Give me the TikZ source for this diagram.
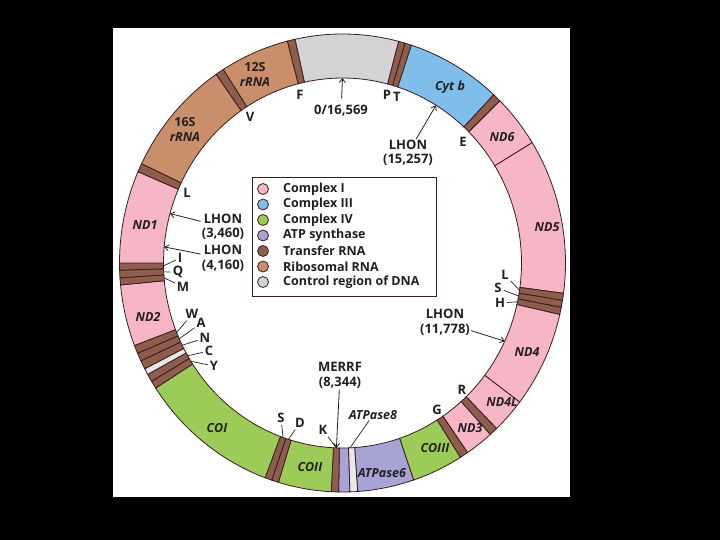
\documentclass[tikz,border=0pt]{standalone}
\usepackage{fontspec}
\setmainfont{Open Sans}
\usetikzlibrary{arrows.meta}
\definecolor{cI}{HTML}{F6B6C5}
\definecolor{cIII}{HTML}{7FBDEA}
\definecolor{cIV}{HTML}{9CCB58}
\definecolor{cATP}{HTML}{A8A3D5}
\definecolor{ctRNA}{HTML}{8D5E4E}
\definecolor{crRNA}{HTML}{C98E6A}
\definecolor{cctrl}{HTML}{D3D3D5}
\definecolor{clight}{HTML}{E8E8E8}
\definecolor{linec}{HTML}{3A1D1D}
\definecolor{txt}{HTML}{231F20}
\newcommand\rseg[3]{\filldraw[segst,fill=#3] ({#1-90}:223 and 229) arc[start angle={#1-90},end angle={#2-90},x radius=223,y radius=229] -- ({#2-90}:179 and 185) arc[start angle={#2-90},end angle={#1-90},x radius=179,y radius=185] -- cycle;}
\tikzset{
  segst/.style={draw=linec, line width=0.8pt},
  glab/.style={font=\fontsize{12.5}{13}\selectfont\bfseries\itshape, text=txt, inner sep=0pt},
  ulab/.style={font=\fontsize{13}{14.5}\selectfont\bfseries, text=txt, inner sep=1pt, align=center},
  lead/.style={draw=txt, line width=0.7pt, shorten <=1pt},
  arr/.style={draw=txt, line width=0.8pt, -{Straight Barb[length=4pt,width=6pt]}},
  legdot/.style={circle, draw=linec, line width=0.8pt, minimum size=11pt, inner sep=0pt},
  legtxt/.style={font=\fontsize{12.5}{14}\selectfont\bfseries, text=txt, inner sep=0pt, anchor=west},
}
\begin{document}
\begin{tikzpicture}[x=1pt,y=-1pt]
\useasboundingbox (0,0) rectangle (720,540);
\fill[black] (0,0) rectangle (720,540);
\fill[white] (113,28) rectangle (570,497);

\begin{scope}[shift={(342.5,263)}]
\rseg{-12.3}{14.6}{cctrl}
\rseg{14.6}{16.3}{ctRNA}
\rseg{16.3}{18}{ctRNA}
\rseg{18}{42.7}{cIII}
\rseg{42.7}{44.9}{ctRNA}
\rseg{44.9}{58.3}{cI}
\rseg{58.3}{97.6}{cI}
\rseg{97.6}{99.4}{ctRNA}
\rseg{99.4}{101.2}{ctRNA}
\rseg{101.2}{103}{ctRNA}
\rseg{103}{127.4}{cI}
\rseg{127.4}{136.3}{cI}
\rseg{136.3}{138.5}{ctRNA}
\rseg{138.5}{145.9}{cI}
\rseg{145.9}{148.1}{ctRNA}
\rseg{148.1}{161.4}{cIV}
\rseg{161.4}{176.1}{cATP}
\rseg{176.1}{178.1}{clight}
\rseg{178.1}{181}{cATP}
\rseg{181}{182.9}{ctRNA}
\rseg{182.9}{196.7}{cIV}
\rseg{196.7}{198.5}{ctRNA}
\rseg{198.5}{200.3}{ctRNA}
\rseg{200.3}{236.9}{cIV}
\rseg{236.9}{238.9}{ctRNA}
\rseg{238.9}{240.9}{ctRNA}
\rseg{240.9}{242.5}{clight}
\rseg{242.5}{244.7}{ctRNA}
\rseg{244.7}{246.8}{ctRNA}
\rseg{246.8}{248.9}{ctRNA}
\rseg{248.9}{264.5}{cI}
\rseg{264.5}{266.3}{ctRNA}
\rseg{266.3}{268.2}{ctRNA}
\rseg{268.2}{270}{ctRNA}
\rseg{270}{293.5}{cI}
\rseg{293.5}{295.7}{ctRNA}
\rseg{295.7}{325.5}{crRNA}
\rseg{325.5}{327.7}{ctRNA}
\rseg{327.7}{345.7}{crRNA}
\rseg{345.7}{347.7}{ctRNA}
% target points on the inner edge
\coordinate (p0) at (-90:179 and 185);
\coordinate (p15257) at ({31.5-90}:179 and 185);
\coordinate (p11778) at ({115-90}:179 and 185);
\coordinate (p3460) at ({285.5-90}:179 and 185);
\coordinate (p4160) at ({275-90}:179 and 185);
\coordinate (pK) at ({181.95-90}:179 and 185);
\coordinate (pA8) at ({177.6-90}:179 and 185);
\coordinate (bLr) at ({98.5-90}:179 and 185);
\coordinate (bSr) at ({100.3-90}:179 and 185);
\coordinate (bHr) at ({102.1-90}:179 and 185);
\coordinate (bI) at ({269.1-90}:179 and 185);
\coordinate (bQ) at ({267.25-90}:179 and 185);
\coordinate (bM) at ({265.4-90}:179 and 185);
\coordinate (bW) at ({247.9-90}:179 and 185);
\coordinate (bA) at ({245.8-90}:179 and 185);
\coordinate (bN) at ({243.6-90}:179 and 185);
\coordinate (bC) at ({239.9-90}:179 and 185);
\coordinate (bY) at ({237.9-90}:179 and 185);
\coordinate (bSb) at ({199.4-90}:179 and 185);
\coordinate (bD) at ({197.6-90}:179 and 185);
\end{scope}

% gene labels inside the ring
\node[glab] (s12a) at (255,67) {\upshape 12S};
\node[glab] (s12b) at (255,82) {rRNA};
\node[glab] (s16a) at (185,122) {\upshape 16S};
\node[glab] (s16b) at (185,137) {rRNA};
\node[glab] (cytb) at (450,87) {Cyt b};
\node[glab] (nd6) at (502,137) {ND6};
\node[glab] (nd5) at (547,227) {ND5};
\node[glab] (nd4) at (527,352) {ND4};
\node[glab] (nd4l) at (502,402) {ND4L};
\node[glab] (nd3) at (470,428) {ND3};
\node[glab] (co3) at (435,448) {COIII};
\node[glab] (atp6) at (382,473) {ATPase6};
\node[glab] (co2) at (310,467) {COII};
\node[glab] (co1) at (217,428) {COI};
\node[glab] (nd2) at (148,317) {ND2};
\node[glab] (nd1) at (145,225) {ND1};

% tRNA letters
\node[ulab] (tF) at (300,95) {F};
\node[ulab] (tV) at (250,117) {V};
\node[ulab] (tP) at (387,95) {P};
\node[ulab] (tT) at (397,97) {T};
\node[ulab] (tE) at (463,142) {E};
\node[ulab] (tLr) at (505,275) {L};
\node[ulab] (tSr) at (498,288) {S};
\node[ulab] (tHr) at (500,303) {H};
\node[ulab] (tR) at (462,390) {R};
\node[ulab] (tG) at (437,410) {G};
\node[ulab] (tK) at (323,430) {K};
\node[ulab] (tSb) at (281,418) {S};
\node[ulab] (tD) at (300,423) {D};
\node[ulab] (tLl) at (187,193) {L};
\node[ulab] (tI) at (180,258) {I};
\node[ulab] (tQ) at (178,272) {Q};
\node[ulab] (tM) at (183,287) {M};
\node[ulab] (tW) at (192,314) {W};
\node[ulab] (tA) at (201,323) {A};
\node[ulab] (tN) at (205,338) {N};
\node[ulab] (tC) at (209,351) {C};
\node[ulab] (tY) at (214,366) {Y};

\draw[lead] (tLr) -- (bLr);
\draw[lead] (tSr) -- (bSr);
\draw[lead] (tHr) -- (bHr);
\draw[lead] (tK) -- (pK);
\draw[lead] (tSb) -- (bSb);
\draw[lead] (tD) -- (bD);
\draw[lead] (tI) -- (bI);
\draw[lead] (tQ) -- (bQ);
\draw[lead] (tM) -- (bM);
\draw[lead] (tW) -- (bW);
\draw[lead] (tA) -- (bA);
\draw[lead] (tN) -- (bN);
\draw[lead] (tC) -- (bC);
\draw[lead] (tY) -- (bY);

% mutation / position labels
\node[ulab] (ori) at (341,111) {0/16,569};
\draw[arr, shorten <=6pt] (ori) -- (p0);
\node[ulab] (l15257) at (408,153) {LHON\\(15,257)};
\draw[arr] (l15257) -- (p15257);
\node[ulab] (l11778) at (445,322.5) {LHON\\(11,778)};
\draw[arr] (l11778) -- (p11778);
\node[ulab] (merrf) at (340,375.5) {MERRF\\(8,344)};
\draw[arr] (merrf) -- (pK);
\node[ulab] (l3460) at (223,227) {LHON\\(3,460)};
\draw[arr] (l3460) -- (p3460);
\node[ulab] (l4160) at (223,258.5) {LHON\\(4,160)};
\draw[arr] (l4160) -- (p4160);
\node[glab] (atp8) at (373,415) {ATPase8};
\draw[lead] (atp8) -- (pA8);

% legend
\draw[draw=linec, line width=0.8pt] (252,177) rectangle (436,296);
\foreach \c/\t [count=\i] in {cI/Complex I, cIII/Complex III, cIV/Complex IV, cATP/ATP synthase, ctRNA/Transfer RNA, crRNA/Ribosomal RNA, cctrl/Control region of DNA} {
  \node[legdot, fill=\c] (ld\i) at (263,{173.5+15.5*\i}) {};
  \node[legtxt] (lt\i) at (283,{173.5+15.5*\i}) {\t};
}
\end{tikzpicture}
\end{document}
